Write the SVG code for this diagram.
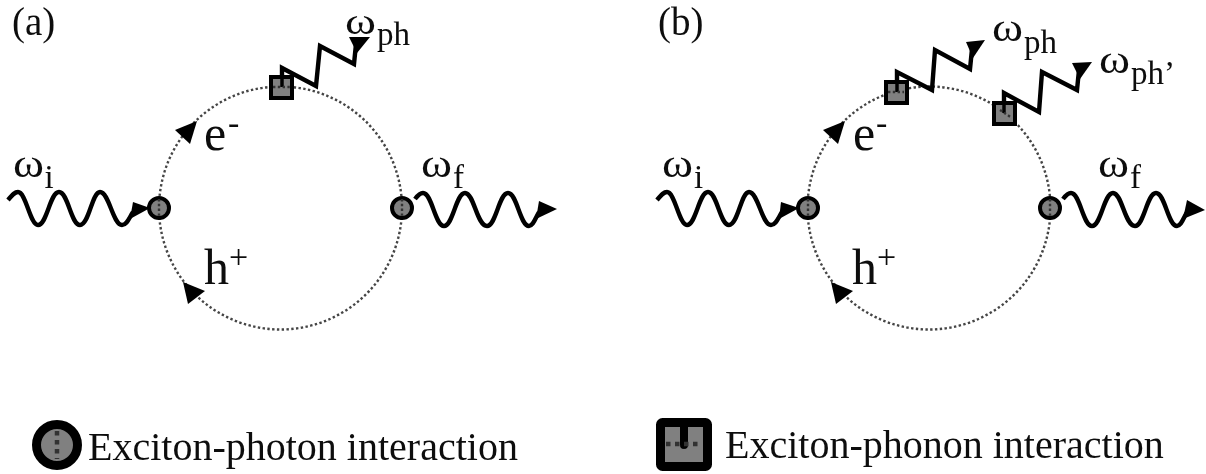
<svg xmlns="http://www.w3.org/2000/svg" width="1206" height="474" viewBox="0 0 1206 474">
<style>
text{font-family:"Liberation Serif","Times New Roman",serif;fill:#111}
.lab{font-size:39px}.om{font-size:40px}.sub{font-size:33px}.big{font-size:50px}.sup{font-size:34px}.leg{font-size:40px}
.loop{fill:none;stroke:#444;stroke-width:2.400;stroke-dasharray:2.400 2.400}
.wave{fill:none;stroke:#000;stroke-width:4.400;stroke-linejoin:miter}
.head{fill:#000}
.v{fill:#808080;stroke:#000;stroke-width:4}
.dot{fill:none;stroke:#333;stroke-width:2.400;stroke-dasharray:2.400 2.400}
</style>
<defs><filter id="soft" x="-2%" y="-2%" width="104%" height="104%"><feGaussianBlur stdDeviation="0.5"/></filter></defs>
<rect width="1206" height="474" fill="#fff"/>
<g filter="url(#soft)">
<g id="connectors">
<circle class="loop" cx="280.500" cy="208" r="121.500"/>
<circle class="loop" cx="929" cy="208" r="121.500"/>
<g id="arrows-a">
<path class="wave" d="M8 200C13 194 15 192 18 192C26 192 30 225 38 225C47 225 50 192 59 192C68 192 71 225 80 225C89 225 92 192 100 192C109 192 113 225 122 225C127 225 129 218 133 212"/>
<path class="head" d="M133 202L150 208L130 219Z"/>
<path class="wave" d="M415 199C418 195 420 193 423 193C432 193 435 226 444 226C453 226 456 193 465 193C474 193 477 226 487 226C496 226 499 193 508 193C517 193 520 226 529 226C533 226 535 219 539 212"/>
<path class="head" d="M539 201L557 209L536 219Z"/>
<path class="wave" d="M282 84L282 68L316 86L320 46L354 64L356 44"/>
<path class="head" d="M349 37L370 37L357 53Z"/>
<path class="head" d="M175 130L197 121L190 144Z"/>
<path class="head" d="M183 282L205 291L188 304Z"/>
</g>
<g id="arrows-b">
<path class="wave" d="M657 200C662 194 664 192 667 192C675 192 679 225 687 225C696 225 699 192 708 192C717 192 720 225 729 225C738 225 741 192 749 192C758 192 762 225 771 225C776 225 778 218 782 212"/>
<path class="head" d="M781 202L799 208L779 219Z"/>
<path class="wave" d="M1063 199C1066 195 1068 193 1071 193C1080 193 1083 226 1092 226C1101 226 1104 193 1113 193C1122 193 1125 226 1135 226C1144 226 1147 193 1156 193C1165 193 1168 226 1177 226C1181 226 1183 219 1187 212"/>
<path class="head" d="M1187 200L1205 210L1183 219Z"/>
<path class="wave" d="M897 90L897 72L932 90L935 50L970 69L972 49"/>
<path class="head" d="M966 42L985 40L973 58Z"/>
<path class="wave" d="M1004 108L1004 93L1039 112L1042 72L1077 90L1079 70"/>
<path class="head" d="M1072 63L1092 62L1080 79Z"/>
<path class="head" d="M823 130L845 121L838 144Z"/>
<path class="head" d="M831 282L853 291L836 304Z"/>
</g>
</g>
<g id="a-vertices">
<g id="a-photon-in"><circle class="v" cx="159" cy="208" r="10"/><path class="dot" d="M159 199V218"/></g>
<g id="a-photon-out"><circle class="v" cx="402" cy="208" r="10"/><path class="dot" d="M402 199V218"/></g>
<g id="a-phonon"><rect class="v" x="271" y="77" width="21" height="21"/><path class="wave" d="M282 68V87" style="stroke-width:3.500"/><path class="dot" d="M273 87H291"/></g>
</g>
<g id="b-vertices">
<g id="b-photon-in"><circle class="v" cx="808" cy="208" r="10"/><path class="dot" d="M808 199V218"/></g>
<g id="b-photon-out"><circle class="v" cx="1050" cy="208" r="10"/><path class="dot" d="M1050 199V218"/></g>
<g id="b-phonon-1"><rect class="v" x="886" y="82" width="21" height="21"/><path class="wave" d="M897 72V92" style="stroke-width:3.500"/><path class="dot" d="M888 92H904"/></g>
<g id="b-phonon-2"><rect class="v" x="994" y="103" width="21" height="21"/><path class="wave" d="M1004 93V113" style="stroke-width:3.500"/><path class="dot" d="M1000 110L1012 118"/></g>
</g>
<g id="legend-photon"><circle cx="57" cy="445" r="20.500" fill="#808080" stroke="#000" stroke-width="9"/><path d="M57 431V459" fill="none" stroke="#333" stroke-width="4.500" stroke-dasharray="4.500 4.500"/></g>
<g id="legend-phonon"><rect x="660.500" y="422.500" width="47" height="44" rx="2" fill="#808080" stroke="#000" stroke-width="9"/><path d="M684 423V445" fill="none" stroke="#000" stroke-width="8" stroke-linecap="round"/><path d="M666 444H702" fill="none" stroke="#333" stroke-width="4.500" stroke-dasharray="4.500 4.500"/></g>
<g id="labels">
<text class="lab" x="12" y="35">(a)</text>
<text class="om" x="345" y="34" textLength="31" lengthAdjust="spacingAndGlyphs" style="font-size:38px">ω</text><text class="sub" x="377" y="45">ph</text>
<text class="big" x="204" y="150">e</text><text class="sup" x="228" y="134">-</text>
<text class="om" x="13" y="177" textLength="31" lengthAdjust="spacingAndGlyphs">ω</text><text class="sub" x="44.500" y="188">i</text>
<text class="big" x="204" y="284">h</text><text class="sup" x="229" y="268">+</text>
<text class="om" x="421" y="177" textLength="31" lengthAdjust="spacingAndGlyphs">ω</text><text class="sub" x="453" y="188">f</text>
<text class="lab" x="658" y="35">(b)</text>
<text class="om" x="992" y="41" textLength="31" lengthAdjust="spacingAndGlyphs">ω</text><text class="sub" x="1024" y="53">ph</text>
<text class="om" x="1099" y="73" textLength="31" lengthAdjust="spacingAndGlyphs">ω</text><text class="sub" x="1131" y="84">ph’</text>
<text class="big" x="853" y="150">e</text><text class="sup" x="876" y="134">-</text>
<text class="om" x="662" y="177" textLength="31" lengthAdjust="spacingAndGlyphs">ω</text><text class="sub" x="694" y="188">i</text>
<text class="big" x="852" y="284">h</text><text class="sup" x="877" y="268">+</text>
<text class="om" x="1098" y="177" textLength="31" lengthAdjust="spacingAndGlyphs">ω</text><text class="sub" x="1130" y="188">f</text>
<text class="leg" x="88" y="460">Exciton-photon interaction</text>
<text class="leg" x="725" y="458">Exciton-phonon interaction</text>
</g>
</g>
</svg>
